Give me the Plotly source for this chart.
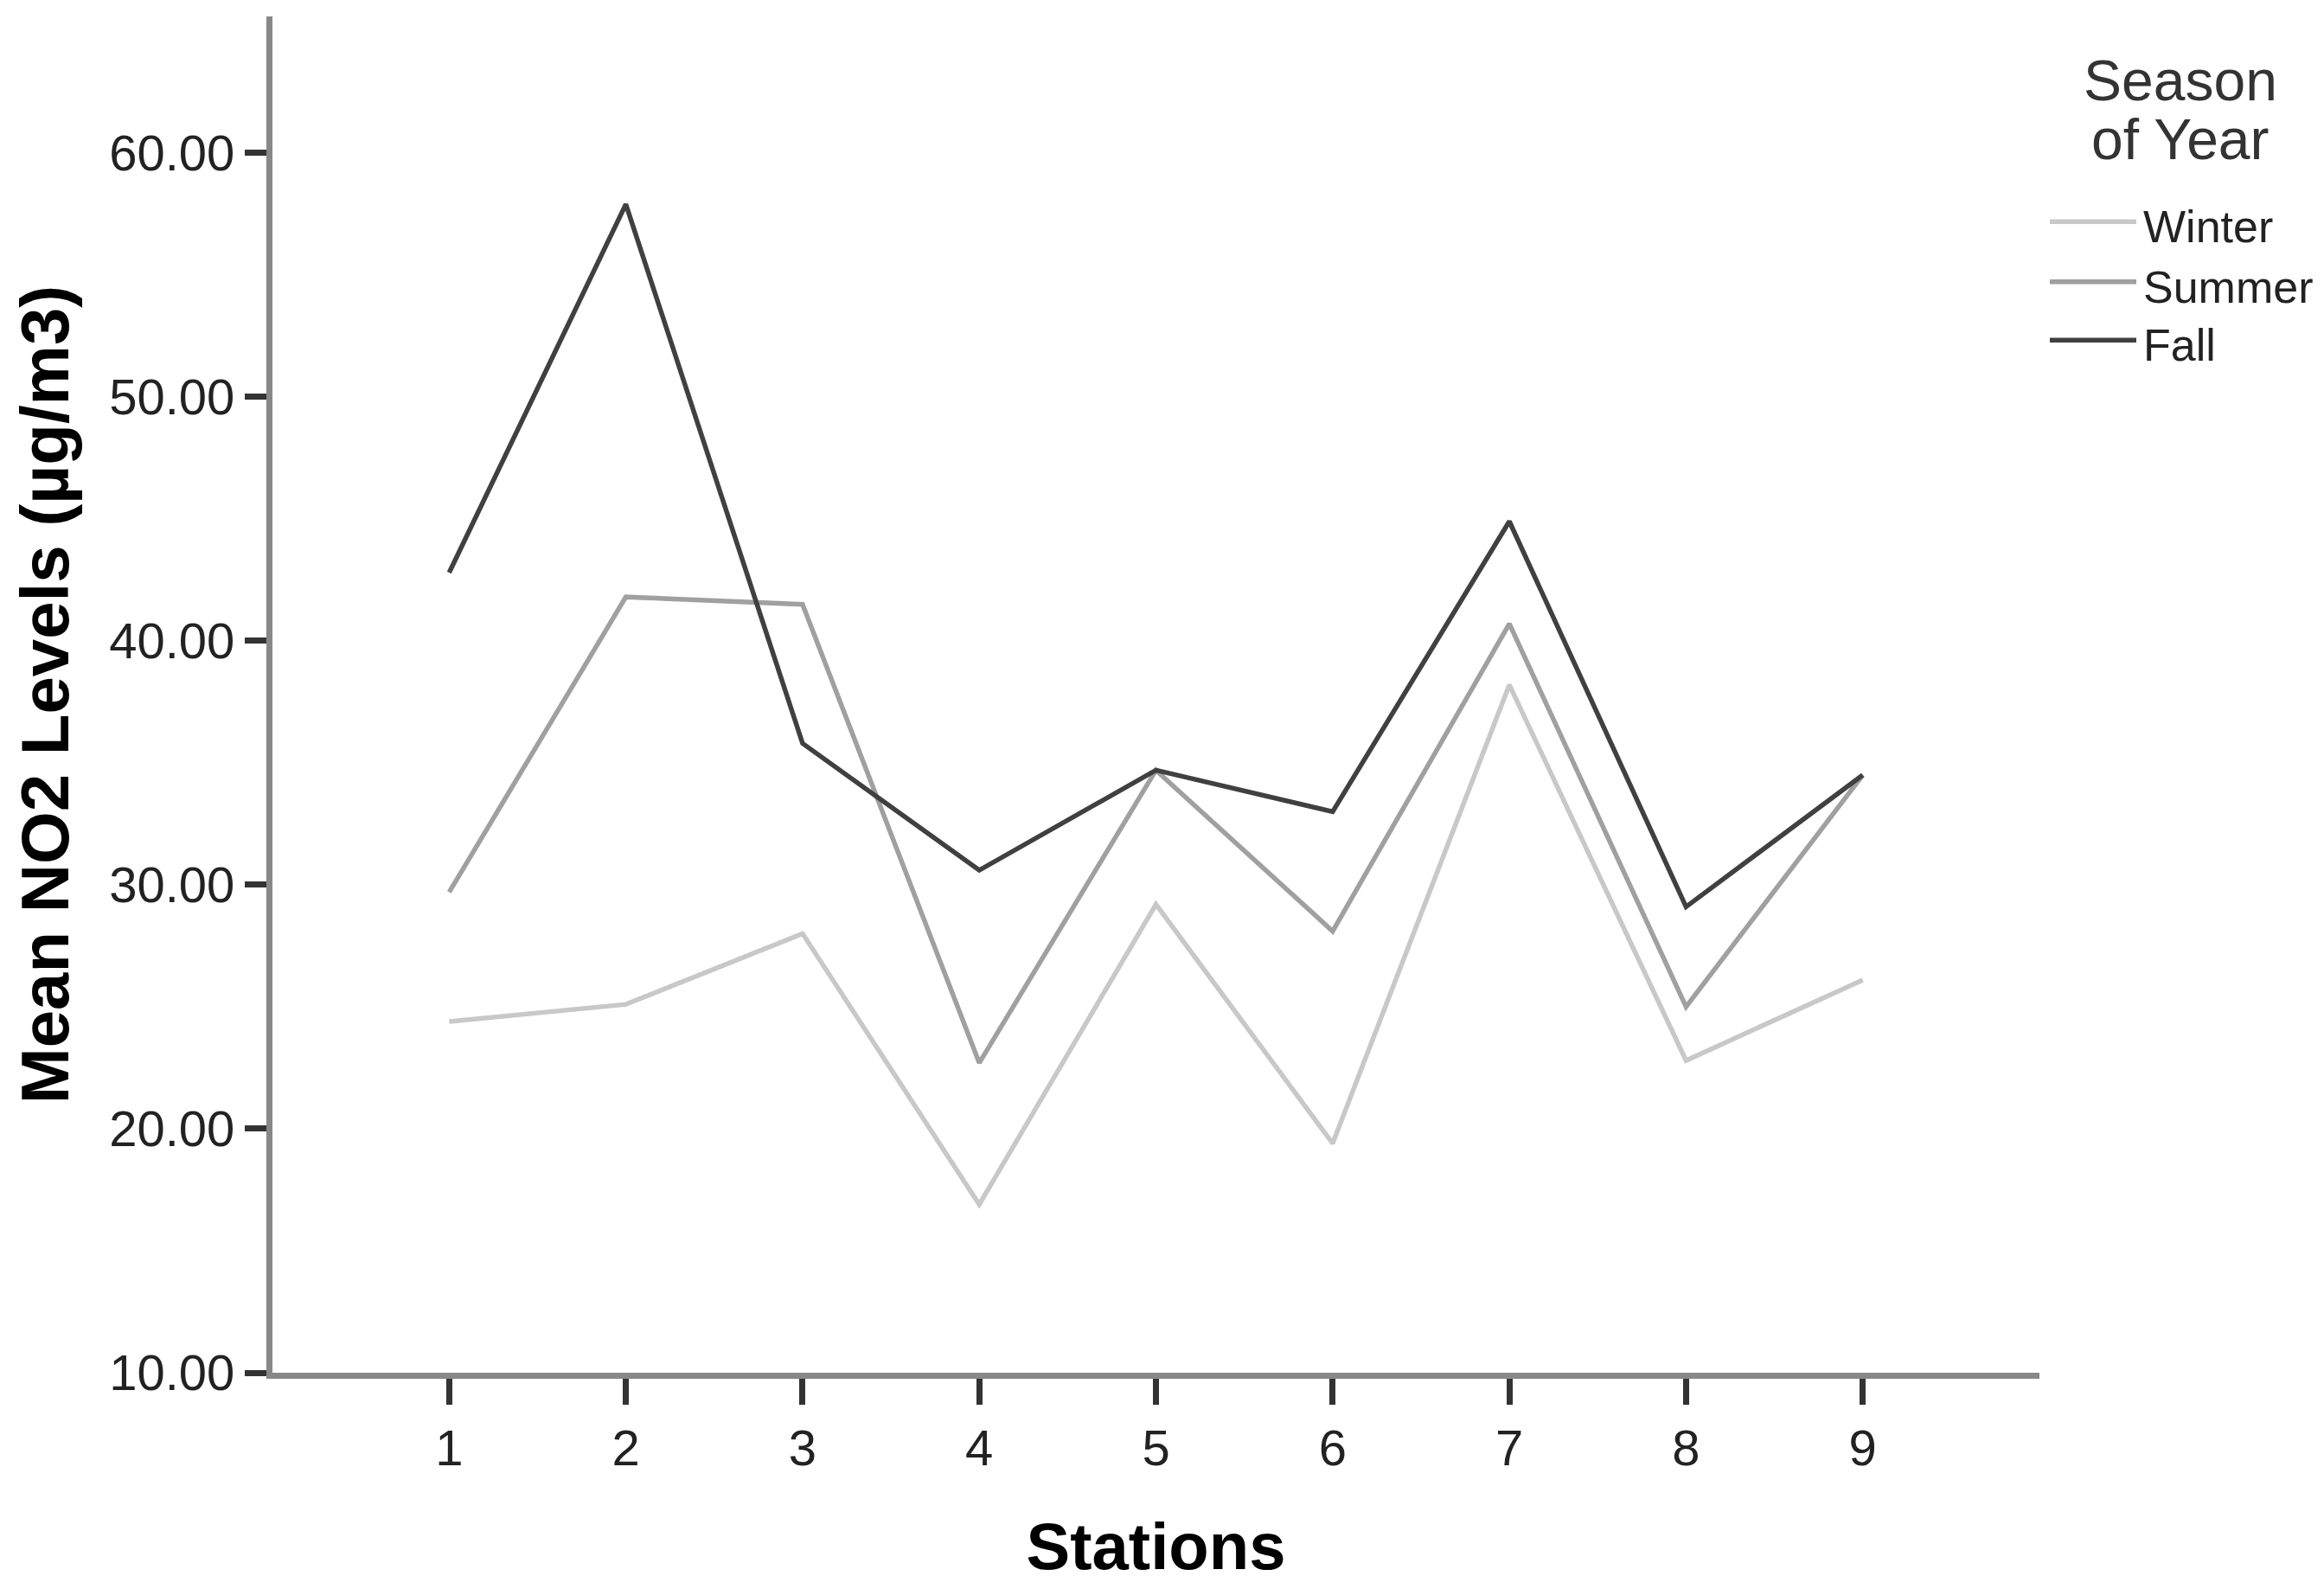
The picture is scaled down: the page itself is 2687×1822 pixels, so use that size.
import plotly.graph_objects as go

stations = [1, 2, 3, 4, 5, 6, 7, 8, 9]
winter = [24.4, 25.1, 28.0, 16.9, 29.2, 19.4, 38.2, 22.8, 26.1]
summer = [29.7, 41.8, 41.5, 22.7, 34.7, 28.1, 40.7, 25.0, 34.5]
fall = [42.8, 57.9, 35.8, 30.6, 34.7, 33.0, 44.9, 29.1, 34.5]

season_names = ["Winter", "Summer", "Fall"]
season_colors = ["#c8c8c8", "#a0a0a0", "#404040"]
season_values = [winter, summer, fall]

y_ticks = [10, 20, 30, 40, 50, 60]
y_tick_labels = ["10.00", "20.00", "30.00", "40.00", "50.00", "60.00"]

W, H = 2687, 1822
L, R, T, B = 307, 337, 11, 232
plot_w = W - L - R
plot_h = H - T - B


def px_x(px):
    return (px - L) / plot_w


def px_y(py):
    return (H - B - py) / plot_h


fig = go.Figure()
for name, vals, color in zip(season_names, season_values, season_colors):
    fig.add_trace(
        go.Scatter(
            x=stations,
            y=vals,
            name=name,
            mode="lines",
            line=dict(color=color, width=5.5),
            showlegend=False,
        )
    )

# legend drawn by hand so the sample lines can be long like the original
title_font = dict(family="Liberation Sans, Arial", size=66, color="#333333")
for line_text, row in [("Season", 86), ("of Year", 154)]:
    fig.add_annotation(
        text=line_text,
        xref="paper", yref="paper",
        x=px_x(2513), y=px_y(row),
        xanchor="center", yanchor="middle",
        showarrow=False,
        font=title_font,
    )

legend_rows = [250, 320, 388]
for name, color, row in zip(season_names, season_colors, legend_rows):
    fig.add_shape(
        type="line",
        xref="paper", yref="paper",
        x0=px_x(2362), x1=px_x(2462),
        y0=px_y(row), y1=px_y(row),
        line=dict(color=color, width=5.5),
    )
    fig.add_annotation(
        text=name,
        xref="paper", yref="paper",
        x=px_x(2468), y=px_y(row + 6),
        xanchor="left", yanchor="middle",
        showarrow=False,
        font=dict(family="Liberation Sans, Arial", size=52, color="#222222"),
    )

axis_font = dict(family="Liberation Sans, Arial", size=58, color="#222222")

fig.update_layout(
    width=W,
    height=H,
    paper_bgcolor="white",
    plot_bgcolor="white",
    margin=dict(l=L, r=R, t=T, b=B),
    font=dict(family="Liberation Sans, Arial", color="#222222"),
    showlegend=False,
    xaxis=dict(
        range=[0, 10],
        tickvals=stations,
        ticktext=[str(s) for s in stations],
        ticks="outside",
        ticklen=30,
        tickwidth=7,
        tickcolor="#333333",
        showline=True,
        linecolor="#888888",
        linewidth=7,
        showgrid=False,
        zeroline=False,
        tickfont=axis_font,
        title=dict(
            text="<b>Stations</b>",
            font=dict(family="Liberation Sans, Arial", size=76, color="black"),
            standoff=60,
        ),
    ),
    yaxis=dict(
        range=[10, 65.6],
        tickvals=y_ticks,
        ticktext=y_tick_labels,
        ticks="outside",
        ticklen=25,
        tickwidth=7,
        tickcolor="#333333",
        showline=True,
        linecolor="#888888",
        linewidth=7,
        showgrid=False,
        zeroline=False,
        tickfont=axis_font,
        title=dict(
            text="<b>Mean NO2 Levels (µg/m3)</b>",
            font=dict(family="Liberation Sans, Arial", size=78, color="black"),
            standoff=38,
        ),
    ),
)

fig.write_html("out.html")
